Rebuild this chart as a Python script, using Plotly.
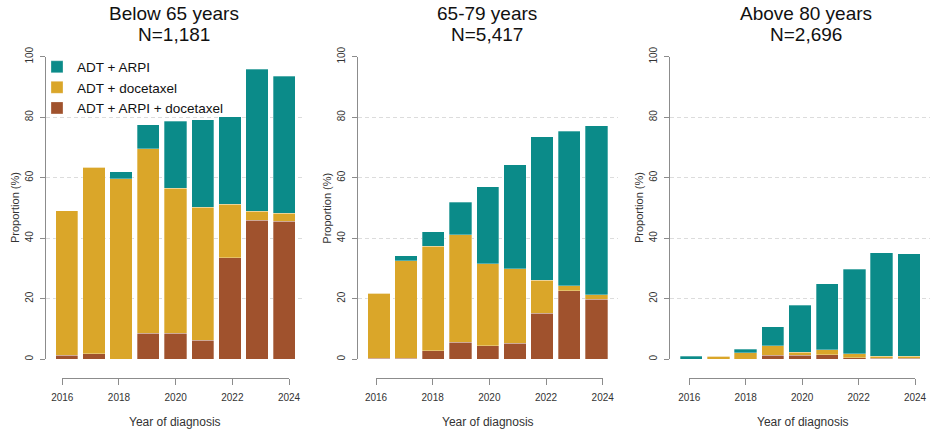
import plotly.graph_objects as go

years = [2016, 2017, 2018, 2019, 2020, 2021, 2022, 2023, 2024]
tick_years = [2016, 2018, 2020, 2022, 2024]
y_ticks = [0, 20, 40, 60, 80, 100]

groups = ["Below 65 years", "65-79 years", "Above 80 years"]
group_n = ["N=1,181", "N=5,417", "N=2,696"]
series_names = ["ADT + ARPI + docetaxel", "ADT + docetaxel", "ADT + ARPI"]

# stacked segment values (%), bottom to top: ARPI+docetaxel, docetaxel, ARPI
below65_arpi_doce = [1.3, 1.8, 0.0, 8.6, 8.6, 6.3, 33.5, 46.0, 45.6]
below65_doce = [47.8, 61.6, 59.6, 60.9, 48.0, 43.9, 17.8, 3.0, 2.6]
below65_arpi = [0.0, 0.0, 2.4, 8.0, 22.0, 29.0, 28.9, 46.9, 45.4]

mid_arpi_doce = [0.3, 0.4, 2.9, 5.6, 4.5, 5.3, 15.2, 22.6, 19.9]
mid_doce = [21.5, 32.1, 34.4, 35.5, 27.0, 24.7, 11.0, 1.7, 1.5]
mid_arpi = [0.0, 1.8, 4.8, 10.8, 25.5, 34.3, 47.3, 51.1, 55.8]

above80_arpi_doce = [0.0, 0.0, 0.0, 1.4, 1.3, 1.5, 0.5, 0.3, 0.3]
above80_doce = [0.0, 1.0, 2.2, 3.1, 1.0, 1.7, 1.4, 0.7, 0.7]
above80_arpi = [1.0, 0.0, 1.1, 6.3, 15.5, 21.8, 27.8, 34.2, 33.9]

panel_data = [
    [below65_arpi_doce, below65_doce, below65_arpi],
    [mid_arpi_doce, mid_doce, mid_arpi],
    [above80_arpi_doce, above80_doce, above80_arpi],
]
colors = ["#A0522D", "#DAA629", "#0B8B89"]

W, H = 945, 434
FONT = "Liberation Sans, Arial, sans-serif"
GREY = "#8c8c8c"

# geometry in screenshot pixels
plot_l = [45.8, 357.9, 670.2]
plot_r = [305.2, 617.5, 929.8]
tick_l = [62.3, 376.0, 689.3]
tick_r = [289.0, 602.7, 915.0]
y0_px, y100_px = 359.3, 56.7
xaxis_px = 377.7
title_cx = [174, 487, 806]
ytitle_x = [15, 326.7, 639]
xtitle_cx = [175, 488, 803]

def px(x):
    return x / W

def py(y):
    return 1 - y / H

fig = go.Figure()
for p in range(3):
    xa = "x" if p == 0 else f"x{p+1}"
    ya = "y" if p == 0 else f"y{p+1}"
    for s in range(3):
        fig.add_trace(go.Bar(
            x=years, y=panel_data[p][s], name=series_names[s],
            marker=dict(color=colors[s], line=dict(width=0.6, color="rgba(255,255,255,0.5)")),
            width=0.82, xaxis=xa, yaxis=ya, showlegend=(p == 0),
            legendrank=3 - s,
        ))
    # invisible helper trace so the separate year axis gets drawn
    fig.add_trace(go.Scatter(
        x=tick_years, y=[0.5] * len(tick_years), mode="markers",
        marker=dict(opacity=0, size=1), hoverinfo="skip", showlegend=False,
        xaxis=f"x{p+4}", yaxis=f"y{p+4}",
    ))

layout = dict(
    width=W, height=H, margin=dict(l=0, r=0, t=0, b=0, autoexpand=False),
    paper_bgcolor="white", plot_bgcolor="rgba(0,0,0,0)",
    barmode="stack", font=dict(family=FONT, color="#222"),
    legend=dict(x=px(37), y=py(51.5), xanchor="left", yanchor="top",
                bgcolor="rgba(0,0,0,0)", font=dict(size=13.5, color="#111"),
                traceorder="normal", tracegroupgap=0),
    annotations=[],
)
for p in range(3):
    sfx = "" if p == 0 else str(p + 1)
    layout["xaxis" + sfx] = dict(
        domain=[px(plot_l[p]), px(plot_r[p])], range=[2015.23, 2024.77],
        visible=False, anchor="y" + sfx, fixedrange=True,
    )
    layout["yaxis" + sfx] = dict(
        domain=[py(y0_px), py(y100_px)], range=[0, 100], anchor="x" + sfx,
        tickvals=y_ticks, ticks="outside", ticklen=5, tickcolor=GREY,
        showline=True, linecolor=GREY, linewidth=1,
        showgrid=True, gridcolor="#dcdcdc", griddash="4px,3px", gridwidth=1,
        zeroline=False, tickangle=-90, tickfont=dict(size=10, color="#333"),
        layer="above traces", ticklabelstandoff=3, automargin=False, fixedrange=True,
    )
    # separate year axis (drawn below the plot region, spanning 2016-2024)
    layout[f"xaxis{p+4}"] = dict(
        domain=[px(tick_l[p]), px(tick_r[p])], range=[2016, 2024],
        anchor=f"y{p+4}", side="bottom",
        tickvals=tick_years, ticks="outside", ticklen=6, tickcolor=GREY,
        showline=True, linecolor=GREY, showgrid=False, zeroline=False,
        tickfont=dict(size=10, color="#333"), ticklabelstandoff=4,
        automargin=False, fixedrange=True,
    )
    layout[f"yaxis{p+4}"] = dict(
        domain=[py(xaxis_px), py(xaxis_px) + 0.005], anchor=f"x{p+4}",
        visible=False, showgrid=False, zeroline=False, range=[0, 1], fixedrange=True,
    )
    layout["annotations"] += [
        dict(text=groups[p], x=px(title_cx[p]), y=py(13), xref="paper", yref="paper",
             showarrow=False, font=dict(size=19, color="#111"), xanchor="center", yanchor="middle"),
        dict(text=group_n[p], x=px(title_cx[p]), y=py(34), xref="paper", yref="paper",
             showarrow=False, font=dict(size=19, color="#111"), xanchor="center", yanchor="middle"),
        dict(text="Proportion (%)", x=px(ytitle_x[p]), y=py(208), xref="paper", yref="paper",
             showarrow=False, textangle=-90, font=dict(size=11, color="#333"),
             xanchor="center", yanchor="middle"),
        dict(text="Year of diagnosis", x=px(xtitle_cx[p]), y=py(421.5), xref="paper", yref="paper",
             showarrow=False, font=dict(size=12, color="#333"), xanchor="center", yanchor="middle"),
    ]

fig.update_layout(**layout)
fig.write_html(
    "out.html",
    config={"displayModeBar": False},
    post_script="document.body.style.margin='0px';document.body.style.overflow='hidden';",
)
